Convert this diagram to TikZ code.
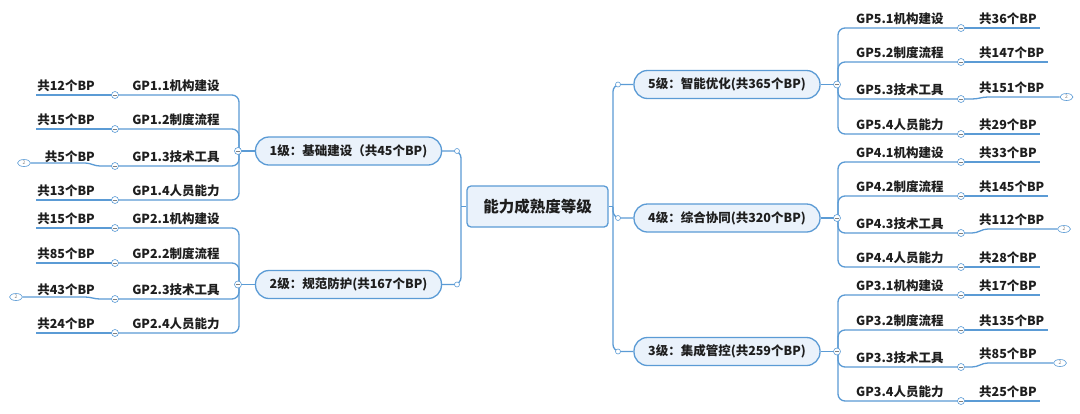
\documentclass[tikz,border=0pt]{standalone}
\usepackage{fontspec}
\setmainfont{Noto Sans CJK SC}
\usetikzlibrary{calc,shapes.geometric}
\definecolor{lblue}{HTML}{5B9BD5}
\definecolor{nfill}{HTML}{EAF2FB}
\definecolor{txt}{HTML}{1E1E1E}
\tikzset{
  conn/.style={draw=lblue, line width=1.3pt, rounded corners=7pt},
  central/.style={draw=lblue, fill=nfill, line width=1.3pt, rounded corners=4pt, minimum width=141pt, minimum height=41pt, inner sep=0, font=\bfseries\fontsize{15.5}{18}\selectfont, text=txt},
  levelbox/.style={draw=lblue, fill=nfill, line width=1.3pt, rounded corners=13.5pt, minimum width=186pt, minimum height=28pt, inner sep=0, font=\bfseries\fontsize{12.5}{15}\selectfont, text=txt},
  lbl/.style={font=\bfseries\fontsize{12.5}{15}\selectfont, text=txt, inner sep=0},
  knob/.style={circle, draw=lblue, fill=white, line width=0.6pt, minimum size=7pt, inner sep=0,
    path picture={\draw[gray, line width=0.5pt] ([xshift=-2pt]path picture bounding box.center) -- ([xshift=2pt]path picture bounding box.center);}},
  dot/.style={circle, draw=lblue, fill=white, line width=0.6pt, minimum size=5pt, inner sep=0},
  more/.style={ellipse, draw=lblue, fill=white, line width=0.6pt, minimum width=13pt, minimum height=7pt, inner sep=0, font=\fontsize{5}{5}\selectfont, text=gray}
}
\begin{document}
\begin{tikzpicture}[x=1pt,y=-1pt]
\useasboundingbox[fill=white] (0,0) rectangle (1080,413);

% central
\node[central] (C) at (537.5,206.5) {能力成熟度等级};

% level nodes
\node[levelbox] (L1) at (348.5,151) {1级：基础建设（共45个BP)};
\node[levelbox] (L2) at (348.5,284.5) {2级：规范防护(共167个BP)};
\node[levelbox] (R5) at (727,84.5) {5级：智能优化(共365个BP)};
\node[levelbox] (R4) at (727,218) {4级：综合协同(共320个BP)};
\node[levelbox] (R3) at (727,351.5) {3级：集成管控(共259个BP)};

\coordinate (jL) at (461,206.5);
\coordinate (jR) at (613,206.5);
\draw[conn] (C.west) -- (jL);
\draw[conn] (L1.east) -| (jL);
\draw[conn] (L2.east) -| (jL);
\draw[conn] (C.east) -- (jR);
\draw[conn] (R5.west) -| (jR);
\draw[conn] (R4.west) -| (jR);
\draw[conn] (R3.west) -| (jR);
\node[dot] (dL1) at (457,151) {};
\node[dot] (dL2) at (457,284.5) {};
\node[dot] (dR5) at (618,84.5) {};
\node[dot] (dR4) at (618,218) {};
\node[dot] (dR3) at (618,351.5) {};

% ---------- left groups ----------
\coordinate (jL1) at (239,151);
\coordinate (jL2) at (239,284.5);
\draw[conn] (L1.west) -- (jL1);
\draw[conn] (L2.west) -- (jL2);

\foreach \g/\j/\y/\c/\b in {
  1/1/95/GP1.1机构建设/共12个BP,
  1/2/129/GP1.2制度流程/共15个BP,
  1/3/166/GP1.3技术工具/共5个BP,
  1/4/200/GP1.4人员能力/共13个BP,
  2/1/228/GP2.1机构建设/共15个BP,
  2/2/263/GP2.2制度流程/共85个BP,
  2/3/299/GP2.3技术工具/共43个BP,
  2/4/333/GP2.4人员能力/共24个BP}{
  \coordinate (u\g\j) at (115,\y);
  \node[lbl] (c\g\j) at (176,\y-9.5) {\c};
  \node[lbl, anchor=east] (g\g\j) at (95,\y-9.5) {\b};
  \draw[conn] (jL\g) |- (u\g\j);
}
\foreach \g/\j in {1/1,1/2,1/4,2/1,2/2,2/4}{
  \draw[conn] (u\g\j) -- ($(u\g\j -| g\g\j.west)+(-1,0)$);
}
\node[more] (m13) at (24,163) {2};
\node[more] (m23) at (16,297) {2};
\draw[conn, rounded corners=0] (u13) -- (100,166) to[out=180,in=0] (85,163) -- (m13.east);
\draw[conn, rounded corners=0] (u23) -- (100,299) to[out=180,in=0] (85,297) -- (m23.east);
\foreach \g/\j in {1/1,1/2,1/3,1/4,2/1,2/2,2/3,2/4}{
  \node[knob] at (u\g\j) {};
}
\node[knob] (kL1) at (238,151) {};
\node[knob] (kL2) at (238,284.5) {};

% ---------- right groups ----------
\coordinate (jR5) at (838,84.5);
\coordinate (jR4) at (838,218);
\coordinate (jR3) at (838,351.5);
\draw[conn] (R5.east) -- (jR5);
\draw[conn] (R4.east) -- (jR4);
\draw[conn] (R3.east) -- (jR3);

\foreach \g/\j/\y/\c/\b in {
  5/1/28/GP5.1机构建设/共36个BP,
  5/2/62/GP5.2制度流程/共147个BP,
  5/3/99/GP5.3技术工具/共151个BP,
  5/4/134/GP5.4人员能力/共29个BP,
  4/1/162/GP4.1机构建设/共33个BP,
  4/2/196/GP4.2制度流程/共145个BP,
  4/3/233/GP4.3技术工具/共112个BP,
  4/4/267/GP4.4人员能力/共28个BP,
  3/1/295/GP3.1机构建设/共17个BP,
  3/2/330/GP3.2制度流程/共135个BP,
  3/3/367/GP3.3技术工具/共85个BP,
  3/4/401/GP3.4人员能力/共25个BP}{
  \coordinate (u\g\j) at (961,\y);
  \node[lbl, anchor=west] (c\g\j) at (856,\y-9) {\c};
  \draw[conn] (jR\g) |- (u\g\j);
}
\foreach \g/\j/\y/\b in {5/1/28/共36个BP, 5/2/62/共147个BP, 5/4/134/共29个BP,
  4/1/162/共33个BP, 4/2/196/共145个BP, 4/4/267/共28个BP,
  3/1/295/共17个BP, 3/2/330/共135个BP, 3/4/401/共25个BP}{
  \node[lbl, anchor=west] (g\g\j) at (979,\y-9) {\b};
  \draw[conn] (u\g\j) -- ($(u\g\j -| g\g\j.east)+(3,0)$);
}
\node[lbl, anchor=west] (g53) at (979,88) {共151个BP};
\node[lbl, anchor=west] (g43) at (979,220) {共112个BP};
\node[lbl, anchor=west] (g33) at (979,354) {共85个BP};
\node[more] (m53) at (1066.5,97) {2};
\node[more] (m43) at (1064,229) {2};
\node[more] (m33) at (1060,363) {2};
\draw[conn, rounded corners=0] (u53) -- (972,99) to[out=0,in=180] (988,97) -- (m53.west);
\draw[conn, rounded corners=0] (u43) -- (972,233) to[out=0,in=180] (988,229) -- (m43.west);
\draw[conn, rounded corners=0] (u33) -- (972,367) to[out=0,in=180] (988,363) -- (m33.west);
\foreach \g/\j in {5/1,5/2,5/3,5/4,4/1,4/2,4/3,4/4,3/1,3/2,3/3,3/4}{
  \node[knob] at (u\g\j) {};
}
\node[knob] (kR5) at (837,84.5) {};
\node[knob] (kR4) at (837,218) {};
\node[knob] (kR3) at (837,351.5) {};
\end{tikzpicture}
\end{document}
